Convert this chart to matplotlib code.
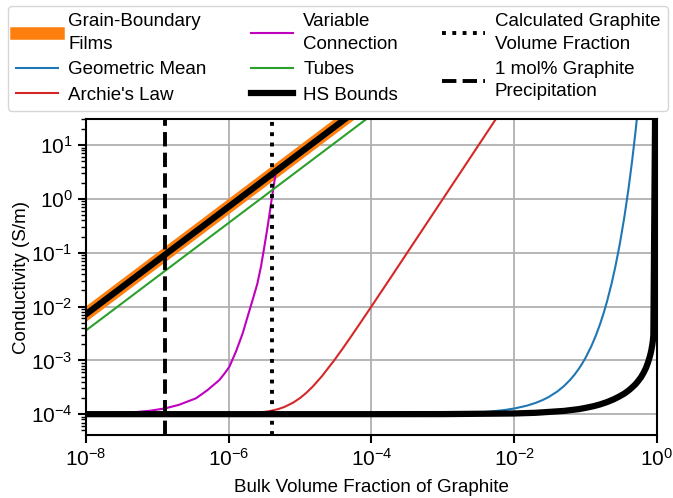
import matplotlib
matplotlib.use('Agg')
import matplotlib.pyplot as plt
from matplotlib.ticker import LogLocator, NullLocator, FixedLocator, LogFormatterSciNotation

plt.rcParams['font.family'] = ['Liberation Sans', 'DejaVu Sans']
plt.rcParams['mathtext.fontset'] = 'custom'
plt.rcParams['mathtext.rm'] = 'Liberation Sans'
plt.rcParams['mathtext.it'] = 'Liberation Sans:italic'
plt.rcParams['mathtext.bf'] = 'Liberation Sans:bold'
FS = 13.5
TFS = 15

# ---- data ----
# grain-boundary films (straight line in log-log)
gb_x = [1e-8, 1e-3]
gb_y = [7.2e-3, 720.0]
# Hashin-Shtrikman upper bound
hsu_x = [1e-8, 1e-3]
hsu_y = [7.2e-3, 720.0]
# tubes
tube_x = [1e-8, 1e-3]
tube_y = [3.6e-3, 360.0]
# geometric mean
geo_x = [1e-8, 1e-4, 1e-3, 4e-3, 7e-3, 0.01, 0.015, 0.02, 0.025, 0.03, 0.04, 0.05,
         0.06, 0.07, 0.08, 0.09, 0.1, 0.12, 0.14, 0.16, 0.18, 0.2, 0.23, 0.26,
         0.3, 0.35, 0.4, 0.45, 0.5, 0.55, 0.6]
geo_y = [1.0e-4, 1.0e-4, 1.024e-4, 1.10e-4, 1.184e-4, 1.274e-4, 1.437e-4, 1.622e-4,
         1.83e-4, 2.065e-4, 2.63e-4, 3.35e-4, 4.27e-4, 5.43e-4, 6.92e-4, 8.81e-4,
         1.122e-3, 1.82e-3, 2.95e-3, 4.79e-3, 7.76e-3, 1.26e-2, 2.6e-2, 5.37e-2,
         0.141, 0.473, 1.585, 5.31, 17.8, 59.6, 200.0]
# Archie's law
archie_x = [1e-8, 1e-6, 1.5e-6, 2e-6, 2.5e-6, 3e-6, 4e-6, 5e-6, 6e-6, 8e-6, 1e-5,
            1.2e-5, 1.5e-5, 2e-5, 3e-5, 4e-5, 5e-5, 7e-5, 1e-4, 2e-4, 1e-3, 1e-2]
archie_y = [1.0e-4, 1.01e-4, 1.02e-4, 1.04e-4, 1.06e-4, 1.09e-4, 1.16e-4, 1.25e-4,
            1.36e-4, 1.64e-4, 2.0e-4, 2.44e-4, 3.25e-4, 5.0e-4, 1.0e-3, 1.7e-3,
            2.6e-3, 5.0e-3, 1.01e-2, 4.0e-2, 1.0, 100.0]
# variable connection
vc_x = [1e-8, 2.0e-8, 3.16e-8, 5.0e-8, 7.94e-8, 1.28e-7, 2.0e-7, 3.47e-7, 5.0e-7,
        7.37e-7, 8.71e-7, 1.02e-6, 1.26e-6, 1.57e-6, 1.86e-6, 2.16e-6, 2.51e-6,
        2.83e-6, 3.16e-6, 3.51e-6, 3.8e-6, 4.12e-6, 4.37e-6, 4.58e-6]
vc_y = [1.017e-4, 1.036e-4, 1.06e-4, 1.095e-4, 1.16e-4, 1.28e-4, 1.49e-4, 1.97e-4,
        2.78e-4, 4.3e-4, 5.68e-4, 7.6e-4, 1.45e-3, 3.2e-3, 6.86e-3, 1.33e-2,
        2.63e-2, 5.56e-2, 0.132, 0.31, 0.63, 1.29, 2.14, 3.3]
# Hashin-Shtrikman lower bound
hsl_x = [1e-8, 1e-4, 1e-3, 1e-2, 0.02, 0.05, 0.08, 0.1, 0.13, 0.16, 0.2, 0.25, 0.3,
         0.35, 0.4, 0.45, 0.5, 0.55, 0.6, 0.65, 0.7, 0.75, 0.8, 0.83, 0.86, 0.88,
         0.89, 1.0]
hsl_y = [1.0e-4, 1.0e-4, 1.003e-4, 1.03e-4, 1.061e-4, 1.15e-4, 1.24e-4, 1.31e-4,
         1.41e-4, 1.52e-4, 1.68e-4, 1.9e-4, 2.15e-4, 2.42e-4, 2.75e-4, 3.15e-4,
         3.6e-4, 4.2e-4, 4.9e-4, 5.9e-4, 7.2e-4, 9.2e-4, 1.22e-3, 1.5e-3, 1.95e-3,
         2.45e-3, 3.0e-3, 1e6]
# vertical reference fractions
calc_frac = 4.1e-6
mol_frac = 1.27e-7

x_ticks = [1e-8, 1e-6, 1e-4, 1e-2, 1e0]
y_ticks = [1e-4, 1e-3, 1e-2, 1e-1, 1e0, 1e1]

fig = plt.figure(figsize=(6.73, 4.98), dpi=100)
ax = fig.add_axes([0.1278, 0.1265, 0.8484, 0.6345])

ax.plot(gb_x, gb_y, color='#ff7f0e', lw=9, label='Grain-Boundary\nFilms')
ax.plot(geo_x, geo_y, color='#1f77b4', lw=1.5, label='Geometric Mean')
ax.plot(archie_x, archie_y, color='#d62728', lw=1.5, label="Archie's Law")
ax.plot(vc_x, vc_y, color='m', lw=1.5, label='Variable\nConnection')
ax.plot(tube_x, tube_y, color='#2ca02c', lw=1.5, label='Tubes')
ax.plot(hsu_x, hsu_y, color='k', lw=4.5, label='HS Bounds')
ax.plot(hsl_x, hsl_y, color='k', lw=4.5)
ax.axvline(calc_frac, color='k', ls=':', lw=2.8, label='Calculated Graphite\nVolume Fraction')
ax.axvline(mol_frac, color='k', ls='--', lw=2.8, label='1 mol% Graphite\nPrecipitation')

ax.set_xscale('log')
ax.set_yscale('log')
ax.set_xlim(1e-8, 1e0)
ax.set_ylim(4.1e-5, 30.6)
ax.xaxis.set_major_locator(FixedLocator(x_ticks))
ax.xaxis.set_minor_locator(NullLocator())
ax.yaxis.set_major_locator(FixedLocator(y_ticks))
ax.yaxis.set_minor_locator(LogLocator(base=10, subs=range(2, 10), numticks=20))
ax.xaxis.set_major_formatter(LogFormatterSciNotation())
ax.yaxis.set_major_formatter(LogFormatterSciNotation())
ax.grid(True, which='major', color='#b0b0b0', lw=1.3)
ax.set_axisbelow(True)
for s in ax.spines.values():
    s.set_linewidth(1.5)
ax.tick_params(which='major', length=6, width=1.5, labelsize=TFS)
ax.tick_params(which='minor', length=3.5, width=1.0)
ax.set_xlabel('Bulk Volume Fraction of Graphite', fontsize=FS, labelpad=6.5)
ax.set_ylabel('Conductivity (S/m)', fontsize=FS, labelpad=0.5)

leg = fig.legend(loc='center', bbox_to_anchor=(8 / 673, 0.781, 660 / 673, 0.203),
                 mode='expand', borderaxespad=0, ncol=3, fontsize=FS,
                 handlelength=2.25, handletextpad=0.55, labelspacing=0.45,
                 borderpad=0.4, columnspacing=1.5)
for t in leg.get_texts():
    t.set_linespacing(1.4)

fig.savefig('out.png', dpi=100)
